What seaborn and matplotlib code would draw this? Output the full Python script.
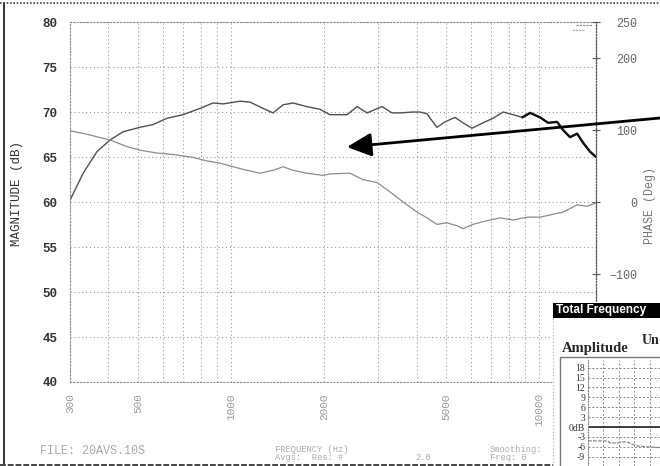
import matplotlib
matplotlib.use('Agg')
import matplotlib.pyplot as plt
from matplotlib.patches import Rectangle
from matplotlib.lines import Line2D
from matplotlib.ticker import FixedLocator, NullFormatter
import seaborn as sns
import pandas as pd

# magnitude curve (dB)
mag_freq = [300, 331, 367, 405, 446, 506, 558, 619, 698, 793,
            873, 942, 1070, 1152, 1270, 1369, 1475, 1589, 1763, 1944,
            2095, 2380, 2565, 2764, 3091, 3331, 3536, 3896, 4103, 4324,
            4658, 4945, 5330, 5658, 6057, 6574, 7085, 7640, 8230, 8815,
            9350, 10070, 10690, 11440, 11960, 12600, 13290, 13880, 14630, 15290]
mag_db = [60.2, 63.2, 65.6, 66.9, 67.8, 68.3, 68.6, 69.3, 69.7, 70.4,
          71.0, 70.9, 71.2, 71.1, 70.4, 69.9, 70.8, 71.0, 70.6, 70.3,
          69.7, 69.7, 70.6, 69.9, 70.6, 69.9, 69.9, 70.0, 70.0, 69.8,
          68.3, 68.9, 69.4, 68.8, 68.2, 68.8, 69.3, 70.0, 69.7, 69.4,
          69.9, 69.4, 68.8, 68.9, 68.0, 67.2, 67.6, 66.6, 65.6, 65.0]

# phase curve (degrees, right axis)
ph_freq = [300, 341, 405, 459, 506, 575, 648, 752, 836, 921,
           1015, 1126, 1242, 1369, 1475, 1589, 1763, 1988, 2095, 2433,
           2682, 2978, 3282, 3617, 4017, 4324, 4658, 5025, 5415, 5658,
           6103, 6775, 7470, 8230, 9145, 10070, 10860, 11960, 13290, 14300, 15290]
ph_deg = [99, 94, 86, 77, 72, 68, 66, 62, 57, 54,
          49, 44, 40, 44, 49, 44, 40, 37, 39, 40,
          31, 27, 14, 0, -14, -22, -31, -29, -33, -37,
          -31, -26, -22, -25, -21, -21, -18, -14, -4, -6, -1]

x_ticks = [300, 500, 1000, 2000, 5000, 10000]
x_minor = [400, 600, 700, 800, 900, 3000, 4000, 6000, 7000, 8000, 9000]
mag_ticks = [40, 45, 50, 55, 60, 65, 70, 75, 80]
ph_ticks = [-100, 0, 100, 200, 250]   # -200 sits under the pasted inset

# small inset ("Total Frequency Response")
inset_x = [0, 1.29, 1.42, 1.94, 2.19, 2.52, 2.84, 3.23, 4.13, 4.65]
inset_db = [-4.2, -4.2, -4.8, -4.8, -4.5, -4.5, -5.2, -5.8, -6.1, -6.2]
inset_ticks = [-9, -6, -3, 0, 3, 6, 9, 12, 15, 18]

sns.set_style('white')
plt.rcParams['font.family'] = ['Liberation Mono', 'DejaVu Sans Mono']

W, H = 660, 466
def fx(px):
    return px / W
def fy(py):
    return 1 - py / H

fig = plt.figure(figsize=(6.6, 4.66), dpi=100)
ax = fig.add_axes([fx(70), fy(382), (596 - 70) / W, (382 - 22) / H])

grid_kw = dict(color='#9a9a9a', ls=(0, (1, 2.5)), lw=0.8)

mag = pd.DataFrame({'freq': mag_freq, 'db': mag_db})
sns.lineplot(data=mag, x='freq', y='db', ax=ax, color='#505050', lw=1.0, sort=False)
hi = mag[mag['freq'] >= 8800]
sns.lineplot(data=hi, x='freq', y='db', ax=ax, color='#111111', lw=1.7, sort=False)

ax.set_xscale('log')
ax.set_xlim(300, 15300)
ax.set_ylim(40, 80)
ax.set_xticks(x_ticks)
ax.set_xticklabels([str(t) for t in x_ticks], rotation=90, va='top')
ax.xaxis.set_minor_locator(FixedLocator(x_minor))
ax.xaxis.set_minor_formatter(NullFormatter())
ax.set_yticks(mag_ticks)
ax.grid(True, which='both', axis='x', **grid_kw)
ax.grid(True, which='major', axis='y', **grid_kw)
ax.tick_params(axis='x', which='both', length=0, pad=8, labelsize=8, labelcolor='#9a9a9a')
ax.tick_params(axis='y', length=0, pad=9, labelsize=9, labelcolor='#333333')
for t in ax.get_yticklabels():
    t.set_fontweight('bold')
ax.set_xlabel('')
ax.set_ylabel('')
for s in ax.spines.values():
    s.set_visible(True)
    s.set_color('#8a8a8a')
    s.set_linestyle((0, (1, 2)))
    s.set_linewidth(0.8)

ax2 = ax.twinx()
ph = pd.DataFrame({'freq': ph_freq, 'deg': ph_deg})
sns.lineplot(data=ph, x='freq', y='deg', ax=ax2, color='#8c8c8c', lw=0.9, sort=False)
ax2.set_ylim(-250, 250)
ax2.set_yticks(ph_ticks)
ax2.set_ylabel('')
ax2.grid(False)
ax2.tick_params(axis='y', direction='inout', length=6, width=0.8, color='#555555',
                pad=27, labelsize=8.5, labelcolor='#666666')
for t in ax2.get_yticklabels():
    t.set_horizontalalignment('right')
for k in ['left', 'top', 'bottom']:
    ax2.spines[k].set_visible(False)
ax2.spines['right'].set_color('#555555')
ax2.spines['right'].set_linestyle((0, (1, 1.5)))
ax2.spines['right'].set_linewidth(0.9)

# axis titles
fig.text(fx(17), fy(193), 'MAGNITUDE (dB)', rotation=90, ha='center', va='center',
         fontsize=9, color='#333333')
fig.text(fx(650), fy(205), 'PHASE (Deg)', rotation=90, ha='center', va='center',
         fontsize=8.5, color='#777777')

# little marker at top right of plot
fig.add_artist(Line2D([fx(576), fx(592)], [fy(25), fy(25)], color='#888888', lw=0.8, ls=(0, (2, 1))))
fig.add_artist(Line2D([fx(572), fx(584)], [fy(30), fy(30)], color='#aaaaaa', lw=0.8, ls=(0, (2, 1))))

# the big pointer arrow
ax2.annotate('', xy=(fx(347), fy(147)), xycoords='figure fraction',
             xytext=(1.0, fy(118)), textcoords='figure fraction',
             arrowprops=dict(arrowstyle='-|>,head_length=0.75,head_width=0.36',
                             color='black', lw=2, mutation_scale=20,
                             shrinkA=0, shrinkB=0),
             annotation_clip=False)

# footer text
foot = dict(fontsize=6.3, color='#aaaaaa', va='center')
fig.text(fx(40), fy(451), 'FILE: 20AVS.10S', fontsize=8.5, color='#aaaaaa', va='center')
fig.text(fx(275), fy(449), 'FREQUENCY (Hz)', **foot)
fig.text(fx(275), fy(458), 'Avgs:  Res: #', **foot)
fig.text(fx(415), fy(458), '2.0', **foot)
fig.text(fx(490), fy(449), 'Smoothing:', **foot)
fig.text(fx(490), fy(458), 'Freq: 0', **foot)

# scan border
fig.add_artist(Line2D([0, 1], [fy(3), fy(3)], color='#444444', lw=1.2, ls=(0, (1, 1))))
fig.add_artist(Line2D([fx(4), fx(4)], [fy(3), fy(464)], color='#333333', lw=1.4))
fig.add_artist(Line2D([0, 1], [fy(464.5), fy(464.5)], color='#444444', lw=1.4, ls=(0, (3, 1))))

# inset panel pasted in the lower right corner
fig.add_artist(Rectangle((fx(553), 0), (W - 553) / W, (466 - 302) / H,
                         transform=fig.transFigure, facecolor='white',
                         edgecolor='none', zorder=5))
fig.add_artist(Line2D([fx(553), fx(553)], [fy(318), 0], color='#aaaaaa', lw=0.8,
                      ls=(0, (1, 2)), zorder=6))
fig.add_artist(Rectangle((fx(553), fy(318)), (W - 553) / W, 15 / H,
                         transform=fig.transFigure, facecolor='black',
                         edgecolor='none', zorder=6))
fig.text(fx(556), fy(310.5), 'Total Frequency', color='white', fontweight='bold',
         fontsize=8.5, family=['Liberation Sans Narrow', 'Liberation Sans'],
         va='center', ha='left', zorder=7)
fig.text(fx(562), fy(352), 'Amplitude', family='Liberation Serif', fontweight='bold',
         fontsize=10.5, va='baseline', zorder=7)
fig.text(fx(642), fy(344), 'Un', family='Liberation Serif', fontweight='bold',
         fontsize=10, va='baseline', zorder=7)
fig.add_artist(Rectangle((fx(560), -0.05), 0.5, (466 - 357) / H + 0.05,
                         transform=fig.transFigure, fill=False,
                         edgecolor='#777777', lw=1, zorder=6))

axi = fig.add_axes([fx(588), 0, (W - 588) / W, (466 - 360) / H], zorder=8)
sns.lineplot(x=inset_x, y=inset_db, ax=axi, color='#888888', lw=0.9,
             ls=(0, (3, 1)), sort=False)
axi.axhline(0, color='#222222', lw=1.2)
axi.set_xlim(0, 4.65)
axi.set_ylim(-11.8, 20.3)
axi.set_xticks([1, 2, 3, 4])
axi.set_xticklabels([])
axi.set_yticks(inset_ticks)
axi.set_yticklabels(['0dB' if t == 0 else str(t) for t in inset_ticks],
                    family='Liberation Serif', fontsize=7, color='#333333')
axi.grid(True, color='#888888', ls=(0, (2, 2)), lw=0.7)
axi.tick_params(length=0, pad=2)
for k in ['top', 'right', 'bottom']:
    axi.spines[k].set_visible(False)
axi.spines['left'].set_color('#888888')
axi.spines['left'].set_linestyle((0, (1, 1.5)))

fig.savefig('out.png', dpi=100)
